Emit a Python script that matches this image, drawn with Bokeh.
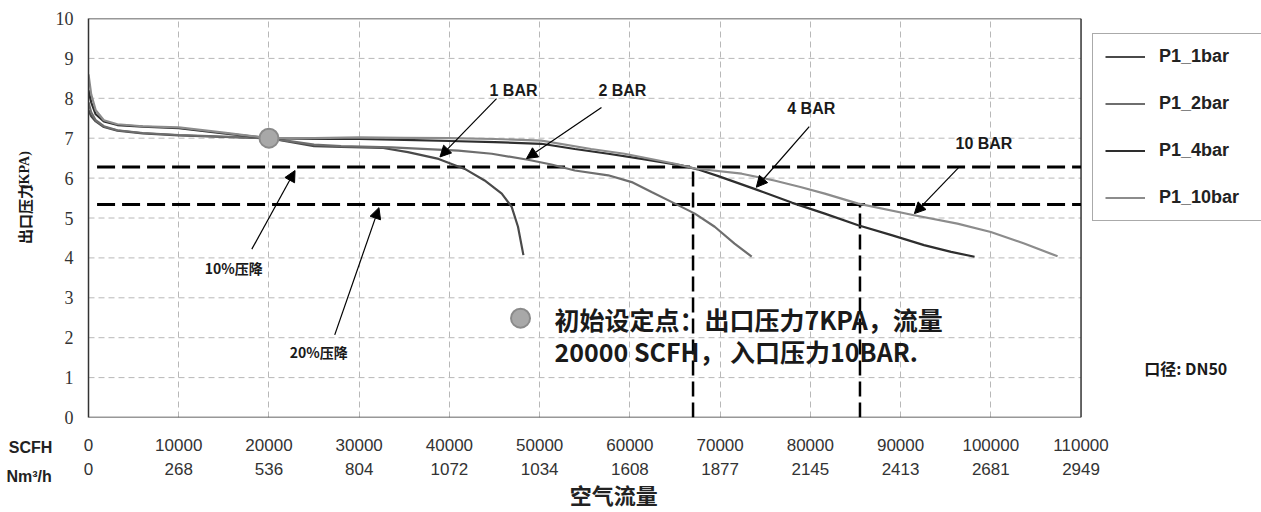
from bokeh.plotting import figure
from bokeh.layouts import row
from bokeh.models import (LinearAxis, FixedTicker, Legend, LegendItem, Label,
                          Arrow, NormalHead, Range1d)
from bokeh.embed import file_html
from bokeh.resources import INLINE

# ---------------- data ----------------
scfh_ticks = [0, 10000, 20000, 30000, 40000, 50000, 60000, 70000, 80000, 90000, 100000, 110000]
nm3_labels = ["0", "268", "536", "804", "1072", "1034", "1608", "1877", "2145", "2413", "2681", "2949"]
kpa_ticks = [0, 1, 2, 3, 4, 5, 6, 7, 8, 9, 10]

bar1_x = [0, 300, 800, 1700, 3200, 6000, 10000, 15000, 20000, 22500, 25000, 28000, 32500,
          35400, 38800, 41700, 43900, 45800, 46900, 47600, 48200]
bar1_y = [7.7, 7.55, 7.42, 7.28, 7.19, 7.12, 7.07, 7.03, 7.0, 6.9, 6.8, 6.78, 6.76,
          6.65, 6.48, 6.23, 5.94, 5.61, 5.28, 4.78, 4.07]

bar2_x = [0, 300, 800, 1700, 3200, 6000, 10000, 15000, 20000, 22500, 25000, 28000, 33600,
          41000, 44700, 48700, 51300, 53900, 57600, 60200, 62400, 65000, 67200, 69400, 71600, 73500]
bar2_y = [7.9, 7.65, 7.45, 7.3, 7.2, 7.13, 7.08, 7.04, 7.0, 6.92, 6.84, 6.8, 6.77,
          6.69, 6.61, 6.46, 6.34, 6.19, 6.07, 5.9, 5.65, 5.36, 5.11, 4.78, 4.36, 4.03]

bar4_x = [0, 300, 800, 1700, 3200, 6000, 10000, 15000, 20000, 25000, 30000, 35000, 40000,
          45000, 50200, 53900, 57600, 61300, 65700, 67500, 69800, 73800, 78000, 81600, 85300,
          89000, 92600, 95600, 98200]
bar4_y = [8.2, 7.9, 7.6, 7.42, 7.33, 7.29, 7.25, 7.12, 7.0, 6.98, 6.98, 6.96, 6.93,
          6.9, 6.86, 6.73, 6.61, 6.48, 6.32, 6.22, 6.05, 5.73, 5.38, 5.11, 4.82,
          4.57, 4.32, 4.15, 4.03]

bar10_x = [0, 300, 800, 1700, 3200, 6000, 10000, 15000, 20000, 25000, 30000, 35000, 40000,
           45000, 50200, 55700, 59400, 65000, 67200, 72400, 76000, 79000, 81600, 85300,
           91500, 96300, 100000, 103700, 107400]
bar10_y = [8.6, 8.1, 7.7, 7.45, 7.35, 7.3, 7.27, 7.14, 7.0, 7.0, 7.02, 7.01, 7.0,
           6.98, 6.94, 6.73, 6.61, 6.36, 6.24, 6.11, 5.94, 5.77, 5.61, 5.36,
           5.07, 4.86, 4.65, 4.36, 4.04]

series_names = ["P1_1bar", "P1_2bar", "P1_4bar", "P1_10bar"]
series_colors = ["#4a4a4a", "#6e6e6e", "#2e2e2e", "#8c8c8c"]

setpoint_x = [20000]
setpoint_y = [7.0]

drop_levels = [6.28, 5.34]      # 10% / 20% drop lines (KPA)
drop_flows = [67000, 85500]     # crossing flows (SCFH)

H = 512
WL = 52
WM = 1261 - WL
TOP, BOTTOM = 18, 94
X_END = 130000                  # frame extends right to hold the legend
x_max = scfh_ticks[-1]
y_max = kpa_ticks[-1]
title_pos = 58200               # horizontal position of the x-axis title

def lab(fig, x, y, text, size="15px", font="Liberation Sans", align="center",
        angle=0, style="bold", color="#1a1a1a"):
    fig.add_layout(Label(x=x, y=y, text=text, text_align=align, text_baseline="middle",
                         text_font=font, text_font_size=size, text_font_style=style,
                         text_color=color, angle=angle, angle_units="deg"))

def style_axis(ax, size="17px", standoff=16, bold=False, font="Liberation Sans", tick_out=6):
    ax.axis_line_color = None
    ax.major_tick_line_color = None
    ax.minor_tick_line_color = None
    ax.major_tick_out = tick_out
    ax.major_tick_in = 0
    ax.major_label_text_font = font
    ax.major_label_text_font_size = size
    ax.major_label_text_color = "#222222" if bold else "#333333"
    ax.major_label_text_font_style = "bold" if bold else "normal"
    ax.major_label_standoff = standoff

# ---------------- left column (axis title, row captions) ----------------
left = figure(width=WL, height=H, x_range=Range1d(0, WL), y_range=Range1d(0, H - TOP - BOTTOM),
              x_axis_type=None, y_axis_type=None, output_backend="svg", toolbar_location=None,
              min_border_left=0, min_border_right=0, min_border_top=TOP, min_border_bottom=BOTTOM)
left.outline_line_color = None
ca1 = LinearAxis(ticker=FixedTicker(ticks=[30]), major_label_overrides={30: "SCFH"})
style_axis(ca1, size="16px", standoff=15, bold=True)
ca2 = LinearAxis(ticker=FixedTicker(ticks=[30]), major_label_overrides={30: "Nm³/h"})
style_axis(ca2, size="16px", standoff=3, bold=True)
left.add_layout(ca1, "below")
left.add_layout(ca2, "below")
lab(left, 24, 418 - 214, "出口压力", size="15px", font="Noto Sans CJK SC", angle=90)
lab(left, 24, 418 - 170, "(KPA)", size="14px", font="Liberation Serif", angle=90)

# ---------------- main chart ----------------
p = figure(width=WM, height=H, x_range=Range1d(0, X_END), y_range=Range1d(0, y_max),
           output_backend="svg", toolbar_location=None,
           min_border_left=34, min_border_right=0, min_border_top=TOP, min_border_bottom=BOTTOM)
p.background_fill_color = "white"
p.outline_line_color = None
p.ygrid.visible = False
p.xgrid.ticker = FixedTicker(ticks=scfh_ticks[1:-1])
p.xgrid.grid_line_color = "#b8b8b8"
p.xgrid.grid_line_dash = "6 4"

ya = p.yaxis[0]
ya.ticker = FixedTicker(ticks=kpa_ticks)
ya.major_tick_line_color = None
ya.minor_tick_line_color = None
ya.major_tick_out = 0
ya.major_tick_in = 0
ya.axis_line_color = "#333333"
ya.axis_line_width = 1.5
ya.major_label_text_font = "Liberation Serif"
ya.major_label_text_font_size = "18px"
ya.major_label_text_color = "#333333"
ya.major_label_standoff = 15

xa = p.xaxis[0]
xa.ticker = FixedTicker(ticks=scfh_ticks)
xa.major_label_overrides = {t: str(t) for t in scfh_ticks}
style_axis(xa, size="17px", standoff=15)

xa2 = LinearAxis(ticker=FixedTicker(ticks=scfh_ticks),
                 major_label_overrides={t: s for t, s in zip(scfh_ticks, nm3_labels)})
style_axis(xa2, size="17px", standoff=3)
p.add_layout(xa2, "below")

xa3 = LinearAxis(ticker=FixedTicker(ticks=[title_pos]),
                 major_label_overrides={title_pos: "空气流量"})
style_axis(xa3, size="22px", standoff=0, bold=True, font="Noto Sans CJK SC", tick_out=0)
p.add_layout(xa3, "below")

# horizontal dashed grid and plot box (only over the data area)
inner = kpa_ticks[1:-1]
p.segment(x0=[0] * len(inner), y0=inner, x1=[x_max] * len(inner), y1=inner,
          line_color="#b8b8b8", line_dash="6 4", line_width=1)
p.segment(x0=[0, 0, x_max], y0=[0, y_max, 0], x1=[x_max, x_max, x_max], y1=[0, y_max, y_max],
          line_color="#333333", line_width=1.5)

# reference dashed lines
p.segment(x0=[950] * len(drop_levels), y0=drop_levels, x1=[x_max] * len(drop_levels),
          y1=drop_levels, line_color="black", line_width=3, line_dash="18 7")
p.segment(x0=drop_flows, y0=[0] * len(drop_flows), x1=drop_flows, y1=drop_levels,
          line_color="black", line_width=2.5, line_dash="15 6")

items = []
for name, col, xs, ys in zip(series_names, series_colors,
                             [bar1_x, bar2_x, bar4_x, bar10_x],
                             [bar1_y, bar2_y, bar4_y, bar10_y]):
    r = p.line(xs, ys, line_color=col, line_width=2.2)
    items.append(LegendItem(label=name, renderers=[r]))

p.scatter(setpoint_x, setpoint_y, size=19, fill_color="#a8a8a8", line_color="#8a8a8a", line_width=2)
p.scatter([47880], [2.49], size=19, fill_color="#a8a8a8", line_color="#8a8a8a", line_width=2)

lab(p, 47100, 8.19, "1 BAR", size="16px")
lab(p, 59170, 8.19, "2 BAR", size="16px")
lab(p, 80100, 7.74, "4 BAR", size="16px")
lab(p, 99240, 6.87, "10 BAR", size="16px")
lab(p, 16100, 3.74, "10%压降", size="14px", font="Noto Sans CJK SC")
lab(p, 25520, 1.64, "20%压降", size="14px", font="Noto Sans CJK SC")
lab(p, 51640, 2.47, "初始设定点：出口压力7KPA，流量", size="25px", font="Noto Sans CJK SC", align="left")
lab(p, 51640, 1.67, "20000 SCFH， 入口压力10BAR.", size="25px", font="Noto Sans CJK SC", align="left")
lab(p, 121600, 1.24, "口径: DN50", size="16px", font="Noto Sans CJK SC")

arrows = [
    (45220, 7.99, 38950, 6.53),
    (56850, 7.77, 48540, 6.49),
    (79880, 7.29, 74010, 5.77),
    (96510, 6.28, 91530, 5.11),
    (18100, 4.22, 22890, 6.19),
    (27290, 2.07, 32190, 5.26),
]
for xs_, ys_, xe_, ye_ in arrows:
    p.add_layout(Arrow(end=NormalHead(size=11, fill_color="black", line_color="black"),
                       x_start=xs_, y_start=ys_, x_end=xe_, y_end=ye_,
                       line_color="black", line_width=1.2))

legend = Legend(items=items, location=(1004, 196))
legend.padding = 12
legend.spacing = 26
legend.label_height = 21
legend.glyph_height = 21
legend.glyph_width = 40
legend.label_standoff = 14
legend.label_width = 92
legend.label_text_font = "Liberation Sans"
legend.label_text_font_style = "bold"
legend.label_text_font_size = "18px"
legend.label_text_color = "#222222"
legend.border_line_color = "#555555"
legend.border_line_width = 1.2
legend.background_fill_color = "white"
p.add_layout(legend)

layout = row(left, p, spacing=0)
open("out.html", "w").write(file_html(layout, INLINE))
